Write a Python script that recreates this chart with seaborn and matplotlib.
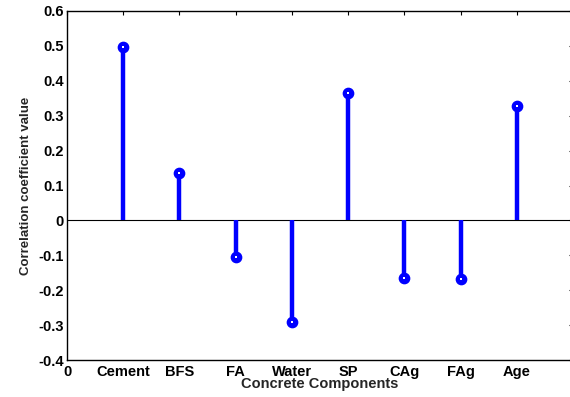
import matplotlib
matplotlib.use("Agg")
import matplotlib.pyplot as plt
import seaborn as sns
import pandas as pd
import numpy as np

categories = ["Cement", "BFS", "FA", "Water", "SP", "CAg", "FAg", "Age"]
values = [0.498, 0.135, -0.106, -0.290, 0.366, -0.165, -0.167, 0.329]
tick_labels = ["0"] + categories
yticks = [-0.4, -0.3, -0.2, -0.1, 0, 0.1, 0.2, 0.3, 0.4, 0.5, 0.6]

sns.set_style("white")
plt.rcParams['font.family'] = ['Liberation Sans', 'DejaVu Sans']
plt.rcParams['font.weight'] = 'bold'

df = pd.DataFrame({"pos": np.arange(1, len(categories) + 1), "val": values, "cat": categories})

fig = plt.figure(figsize=(5.70, 3.97), dpi=100)
ax = fig.add_axes([67 / 570, 37 / 397, 506 / 570, 349 / 397])

ax.axhline(0, color="black", lw=0.8, zorder=1)
ax.vlines(df["pos"], 0, df["val"], color="#0000ff", lw=3.2, zorder=2)
sns.scatterplot(data=df, x="pos", y="val", ax=ax, marker="o", s=55,
                color="#0000ff", edgecolor="#0000ff", linewidth=1.0, zorder=3, legend=False)
ax.scatter(df["pos"], df["val"], s=1.2, marker="s", color="white", zorder=4, linewidths=0)

ax.set_xlim(0, 9)
ax.set_ylim(-0.4, 0.6)
ax.set_xticks(range(0, 9))
ax.set_xticklabels(tick_labels, fontsize=10.5, fontweight="bold")
ax.set_yticks(yticks)
ax.set_yticklabels([f"{v:g}" for v in yticks], fontsize=10.5, fontweight="bold")
ax.tick_params(direction="in", length=3, width=0.8, top=True, right=True, colors="black")
ax.tick_params(axis="x", pad=3.5)
ax.tick_params(axis="y", pad=2.5)
for s in ax.spines.values():
    s.set_color("black")
    s.set_linewidth(1.0)
ax.set_xlabel("Concrete Components", fontsize=10.5, fontweight="bold", labelpad=-1)
ax.set_ylabel("Correlation coefficient value", fontsize=9.5, fontweight="bold", labelpad=4)

fig.savefig("out.png", dpi=100)
